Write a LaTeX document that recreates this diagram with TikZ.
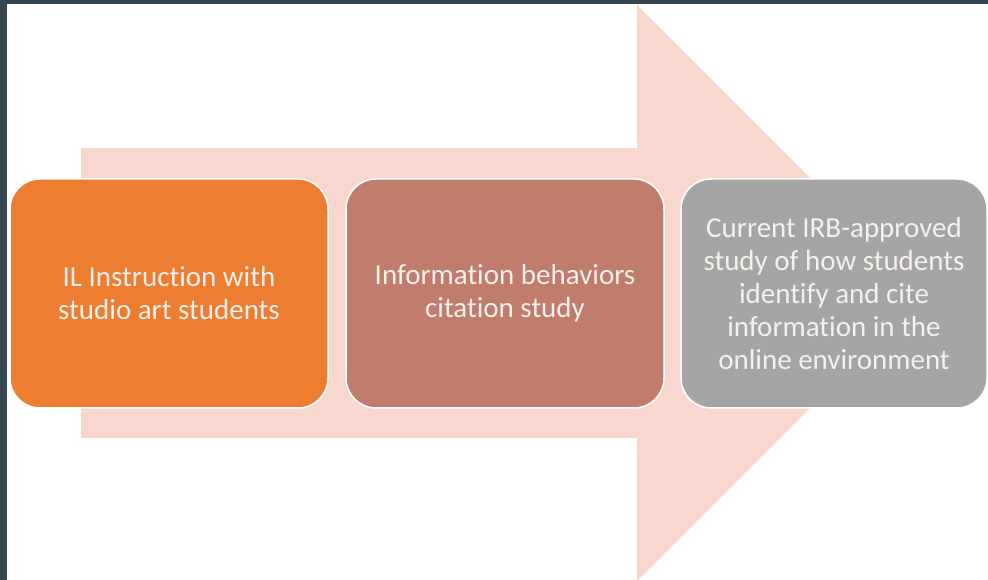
\documentclass[tikz,border=0pt]{standalone}
\usepackage{fontspec}
\setmainfont{Carlito}[Ligatures=NoCommon]
\definecolor{frame}{RGB}{53,70,80}
\definecolor{peach}{RGB}{248,216,206}
\definecolor{orangebox}{RGB}{237,125,49}
\definecolor{rosebox}{RGB}{192,124,109}
\definecolor{graybox}{RGB}{165,165,165}
\definecolor{boxtext}{RGB}{245,240,236}
\tikzset{
    stage/.style={draw=white, line width=1.5pt, rounded corners=30pt,
        minimum width=318pt, minimum height=229pt, align=center,
        text=boxtext, font=\fontsize{29}{33}\selectfont},
}
\begin{document}
\begin{tikzpicture}[x=1pt,y=1pt]
        \useasboundingbox (0,0) rectangle (988,580);
        \begin{scope}
        \clip (0,0) rectangle (988,580);
        % big background arrow
        \fill[peach] (81,142) -- (637,142) -- (637,-1) -- (925,287)
            -- (637,575) -- (637,432) -- (81,432) -- cycle;
        % the three steps
        \node[stage, fill=orangebox] (instr) at (169,286.5)
            {IL Instruction with\\studio art students};
        \node[stage, fill=rosebox] (cite) at (505,286.5)
            {Information behaviors\\citation study};
        \node[stage, fill=graybox, minimum width=306pt] (irb) at (834,286.5)
            {Current IRB-approved\\study of how students\\identify and cite\\information in the\\online environment};
        \end{scope}
        % dark frame on the left and top
        \fill[frame] (0,0) rectangle (7,580);
        \fill[frame] (0,576) rectangle (988,580);
    \end{tikzpicture}
\end{document}
